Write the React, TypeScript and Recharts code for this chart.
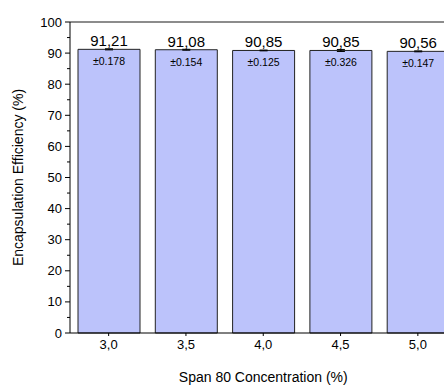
import React from 'react';
import { BarChart, Bar, XAxis, YAxis, ErrorBar, LabelList, ReferenceLine } from 'recharts';

const concentrations = ['3,0', '3,5', '4,0', '4,5', '5,0'];
const efficiency = [91.21, 91.08, 90.85, 90.85, 90.56];
const valueLabels = ['91,21', '91,08', '90,85', '90,85', '90,56'];
const deviations = [0.178, 0.154, 0.125, 0.326, 0.147];
const devLabels = ['±0.178', '±0.154', '±0.125', '±0.326', '±0.147'];
const majorTicks = [0, 10, 20, 30, 40, 50, 60, 70, 80, 90, 100];
const minorTicks = [5, 15, 25, 35, 45, 55, 65, 75, 85, 95];

const data = concentrations.map((c, i) => ({
  conc: c,
  ee: efficiency[i],
  err: deviations[i],
  label: valueLabels[i],
  dev: devLabels[i],
}));

const allTicks = [...majorTicks, ...minorTicks].sort((a, b) => a - b);

const YTick = (props: any) => {
  const { x, y, payload } = props;
  const axisX = x + 8;
  const major = majorTicks.includes(payload.value);
  return (
    <g>
      <line x1={axisX - (major ? 5 : 3)} x2={axisX} y1={y} y2={y} stroke="#000" strokeWidth={1} />
      {major && (
        <text x={axisX - 8} y={y} dy={4.5} textAnchor="end" fontSize={13} fill="#000">
          {payload.value}
        </text>
      )}
    </g>
  );
};

const BarText = (props: any) => {
  const { x, y, width, index } = props;
  const cx = x + width / 2;
  return (
    <g>
      <text x={cx} y={y - 3} textAnchor="middle" fontSize={15} fill="#000">{valueLabels[index]}</text>
      <text x={cx} y={y + 16} textAnchor="middle" fontSize={10.5} fill="#000">{devLabels[index]}</text>
    </g>
  );
};

export default function App() {
  return (
    <div style={{ position: 'fixed', left: 0, top: 0, width: 444, height: 385, overflow: 'hidden', background: '#fff', fontFamily: '"Liberation Sans", Arial, sans-serif' }}>
      <BarChart width={480} height={385} data={data} margin={{ top: 22, right: 23.5, left: 0, bottom: 0 }}>
        <ReferenceLine y={100} stroke="#666" strokeWidth={1.5} />
        <XAxis
          dataKey="conc"
          height={52}
          padding={{ left: 0, right: 0 }}
          tickSize={3}
          tickMargin={4}
          axisLine={{ stroke: '#000' }}
          tickLine={{ stroke: '#000' }}
          tick={{ fontSize: 13, fill: '#000' }}
          label={{ value: 'Span 80 Concentration (%)', position: 'insideBottom', offset: 3, fontSize: 14, fill: '#000' }}
        />
        <YAxis
          width={70}
          domain={[0, 100]}
          ticks={allTicks}
          interval={0}
          tickSize={4}
          tickMargin={4}
          tickLine={false}
          axisLine={{ stroke: '#000' }}
          tick={<YTick />}
          label={{ value: 'Encapsulation Efficiency (%)', angle: -90, position: 'center', dx: -17, fontSize: 14, fill: '#000' }}
        />
        <Bar dataKey="ee" barSize={62} fill="#bcc3fb" stroke="#222" strokeWidth={1} isAnimationActive={false}>
          <ErrorBar dataKey="err" width={4} stroke="#000" strokeWidth={1} direction="y" />
          <LabelList dataKey="label" content={<BarText />} />
        </Bar>
      </BarChart>
    </div>
  );
}
